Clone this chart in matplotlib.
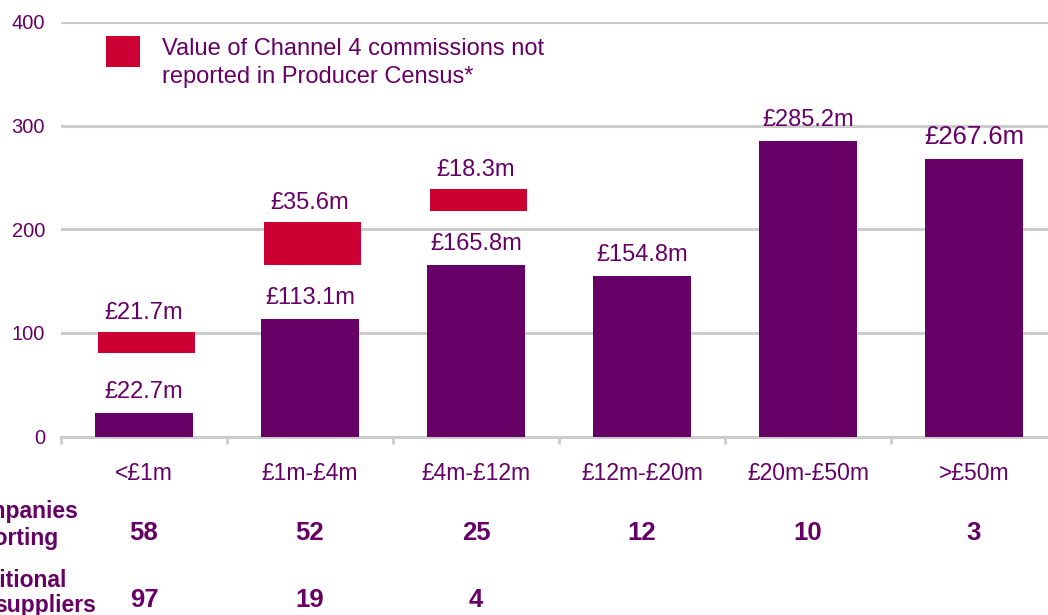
import numpy as np
import matplotlib
matplotlib.use("Agg")
import matplotlib.pyplot as plt
from matplotlib.patches import Rectangle

plt.rcParams["font.family"] = ["Liberation Sans", "DejaVu Sans"]

# ---- data ----
categories = ["<£1m", "£1m-£4m", "£4m-£12m", "£12m-£20m", "£20m-£50m", ">£50m"]
census_values = [22.7, 113.1, 165.8, 154.8, 285.2, 267.6]
census_labels = ["£22.7m", "£113.1m", "£165.8m", "£154.8m", "£285.2m", "£267.6m"]
red_categories = ["<£1m", "£1m-£4m", "£4m-£12m"]
red_bottom = [80.3, 165.8, 218.0]
red_top = [100.9, 207.0, 238.6]
red_labels = ["£21.7m", "£35.6m", "£18.3m"]
companies_reporting = ["58", "52", "25", "12", "10", "3"]
additional_suppliers = ["97", "19", "4"]
yticks = [0, 100, 200, 300, 400]
legend_lines = ["Value of Channel 4 commissions not", "reported in Producer Census*"]

PURPLE = "#660066"
RED = "#CC0033"
GRID = "#CCCCCC"

W, H = 1048, 615
fig = plt.figure(figsize=(W / 100, H / 100), dpi=100)

def fx(px):
    return px / W

def fy(py):
    return 1 - py / H

ax = fig.add_axes([fx(61), fy(436.5), 996 / W, 414.5 / H])
ax.set_xlim(0, len(categories))
ax.set_ylim(0, 400)

x = np.arange(len(categories)) + 0.5
ax.bar(x, census_values, width=0.59, color=PURPLE, zorder=3)

rx = np.array([categories.index(c) for c in red_categories]) + 0.5
rb = np.array(red_bottom)
rt = np.array(red_top)
ax.bar(rx + 0.015, rt - rb, bottom=rb, width=0.59, color=RED, zorder=3)

# grid / axes
ax.set_yticks(yticks)
ax.yaxis.grid(True, color=GRID, lw=2.2, zorder=0)
ax.set_axisbelow(True)
for s in ["top", "right", "left"]:
    ax.spines[s].set_visible(False)
ax.spines["bottom"].set_color(GRID)
ax.spines["bottom"].set_linewidth(2.2)
ax.set_xticks(np.arange(len(categories) + 1))
ax.set_xticklabels([])
ax.tick_params(axis="x", length=5, width=2, color=GRID, direction="out")
ax.tick_params(axis="y", length=0, pad=11.5, labelsize=14.5, labelcolor=PURPLE)
for t in ax.get_yticklabels():
    t.set_color(PURPLE)

# value labels
for i, (v, lbl) in enumerate(zip(census_values, census_labels)):
    fs = 18.5 if i == len(census_values) - 1 else 17
    ax.annotate(lbl, (x[i], v), xytext=(0, 15), textcoords="offset pixels",
                ha="center", va="baseline", fontsize=fs, color=PURPLE)
for xi, t, lbl in zip(rx, rt, red_labels):
    ax.annotate(lbl, (xi, t), xytext=(0, 13), textcoords="offset pixels",
                ha="center", va="baseline", fontsize=17, color=PURPLE)

# category labels
for xi, c in zip(x, categories):
    ax.annotate(c, (xi, H - 480), xycoords=("data", "figure pixels"),
                ha="center", va="baseline", fontsize=16.5, color=PURPLE)

# table rows
for xi, n in zip(x, companies_reporting):
    ax.annotate(n, (xi, H - 540), xycoords=("data", "figure pixels"),
                ha="center", va="baseline", fontsize=18.5, fontweight="bold", color=PURPLE)
for xi, n in zip(x, additional_suppliers):
    ax.annotate(n, (xi, H - 607), xycoords=("data", "figure pixels"),
                ha="center", va="baseline", fontsize=18.5, fontweight="bold", color=PURPLE)

# row headers (partially cut off at the left edge, as in the original)
fig.text(fx(-45), fy(518), "Companies", ha="left", va="baseline", fontsize=16.5,
         fontweight="bold", color=PURPLE)
fig.text(fx(-42), fy(545), "reporting", ha="left", va="baseline", fontsize=16.5,
         fontweight="bold", color=PURPLE)
fig.text(fx(-45), fy(587), "Additional", ha="left", va="baseline", fontsize=16.5,
         fontweight="bold", color=PURPLE)
fig.text(fx(-6), fy(612), "suppliers", ha="left", va="baseline", fontsize=16.5,
         fontweight="bold", color=PURPLE)

# legend
fig.patches.append(Rectangle((fx(106), fy(67)), 34 / W, 31 / H, transform=fig.transFigure,
                             facecolor=RED, edgecolor="none"))
fig.text(fx(162), fy(55), legend_lines[0], ha="left", va="baseline", fontsize=17, color=PURPLE)
fig.text(fx(162), fy(83), legend_lines[1], ha="left", va="baseline", fontsize=17, color=PURPLE)

fig.savefig("out.png", dpi=100)
